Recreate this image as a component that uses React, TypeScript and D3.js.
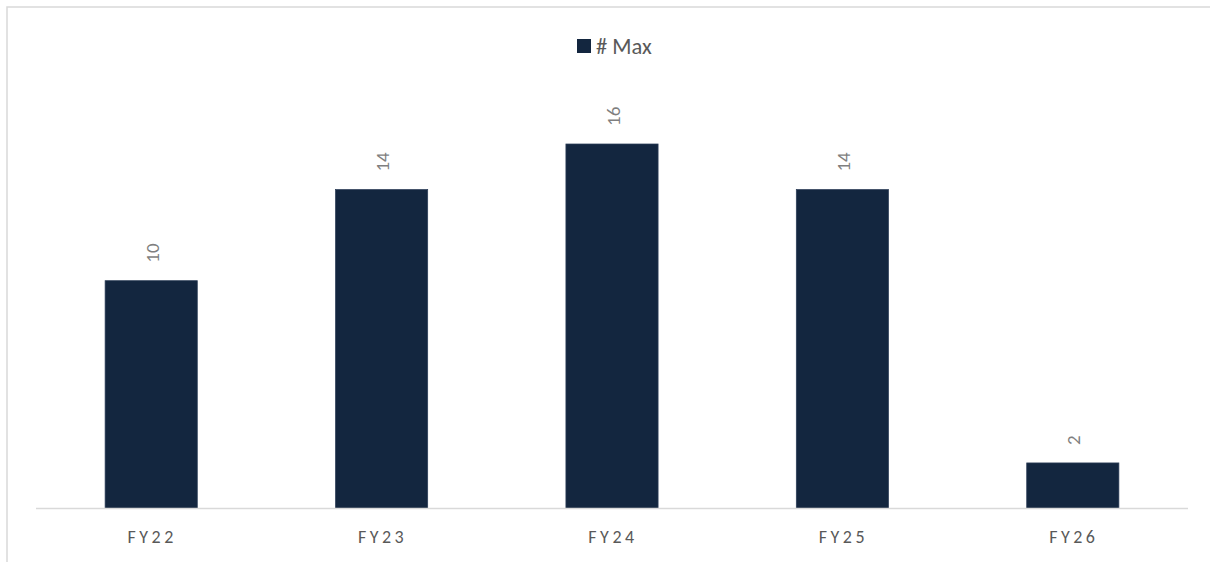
import React from "react";
import * as d3 from "d3";

const categories = ["FY22", "FY23", "FY24", "FY25", "FY26"];
const maxValues = [10, 14, 16, 14, 2];
const seriesName = "# Max";

const W = 1210;
const H = 562;
const FONT = "Calibri, Carlito, Lato, 'Noto Sans', sans-serif";

export default function App() {
  const x = d3.scaleBand<string>().domain(categories).range([36, 1188]).padding(0);
  const y = d3.scaleLinear().domain([0, 16]).range([508.5, 144]);
  const barW = x.bandwidth() * 0.4;

  return (
    <svg
      width={W}
      height={H}
      style={{ position: "absolute", left: 0, top: 0, background: "#fff" }}
    >
      <rect x={7} y={7} width={W + 20} height={H + 20} fill="#fff" stroke="#d9d9d9" strokeWidth={1.5} />
      {/* legend */}
      <rect x={577} y={39} width={14} height={14} fill="#13263f" />
      <text x={596} y={53.5} fontFamily={FONT} fontSize={22.5} fill="#595959">
        {seriesName}
      </text>
      {/* bars */}
      {categories.map((c, i) => {
        const cx = (x(c) as number) + x.bandwidth() / 2;
        const top = y(maxValues[i]);
        return (
          <g key={c}>
            <rect
              x={cx - barW / 2}
              y={top}
              width={barW}
              height={y(0) - top}
              fill="#13263f"
              stroke="#2c3e58"
              strokeWidth={0.75}
            />
            <text
              transform={`translate(${cx + 1},${top - 18}) rotate(-90)`}
              textAnchor="start"
              dy="0.35em"
              fontFamily={FONT}
              fontSize={19}
              fill="#7f7f7f"
            >
              {maxValues[i]}
            </text>
            <text
              x={cx + 1}
              y={537}
              dy="0.35em"
              textAnchor="middle"
              fontFamily={FONT}
              fontSize={18}
              letterSpacing={3.5}
              fill="#595959"
            >
              {c}
            </text>
          </g>
        );
      })}
      {/* axis line */}
      <line x1={36} x2={1188} y1={y(0)} y2={y(0)} stroke="#d9d9d9" strokeWidth={1.5} />
    </svg>
  );
}
